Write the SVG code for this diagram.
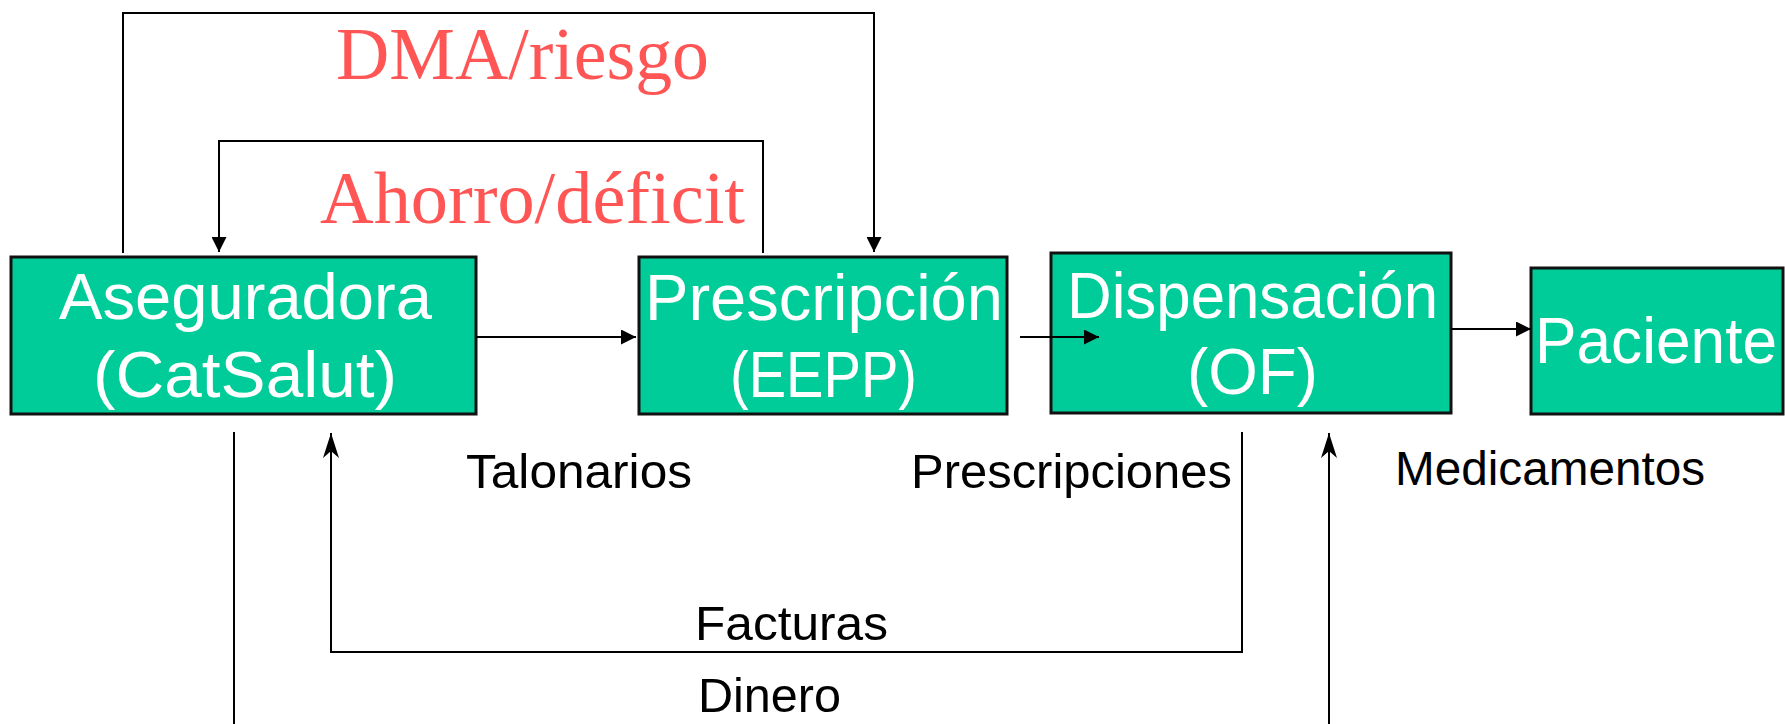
<svg xmlns="http://www.w3.org/2000/svg" width="1785" height="724" viewBox="0 0 1785 724">
<style>
.box{fill:#00CC99;stroke:#111;stroke-width:3}
.bt{font-family:"Liberation Sans",Arial,sans-serif;font-size:64px;fill:#fff}
.lb{font-family:"Liberation Sans",Arial,sans-serif;font-size:48px;fill:#000}
.rd{font-family:"Liberation Serif","Times New Roman",serif;font-size:74px;fill:#FF5555}
.ln{fill:none;stroke:#000;stroke-width:2}
</style>
<defs>
<marker id="tri" viewBox="0 0 15 15" refX="15" refY="7.5" markerWidth="15" markerHeight="15" markerUnits="userSpaceOnUse" orient="auto">
<path d="M0,0 L15,7.5 L0,15 z" fill="#000"/>
</marker>
<marker id="stl" viewBox="0 0 25 16" refX="25" refY="8" markerWidth="25" markerHeight="16" markerUnits="userSpaceOnUse" orient="auto">
<path d="M0,0 L25,8 L0,16 L7,8 z" fill="#000"/>
</marker>
</defs>
<g id="connectors">
<path class="ln" d="M123,253 V13 H874 V252" marker-end="url(#tri)"/>
<path class="ln" d="M763,253 V141 H219 V252" marker-end="url(#tri)"/>
<path class="ln" d="M234,432 V724"/>
<path class="ln" d="M1329,724 V433" marker-end="url(#stl)"/>
<path class="ln" d="M1242,432 V652 H331 V433" marker-end="url(#stl)"/>
</g>
<g id="n-aseguradora">
<rect class="box" x="11" y="257" width="465" height="157"/>
<text class="bt" x="59" y="319" textLength="373" lengthAdjust="spacingAndGlyphs">Aseguradora</text>
<text class="bt" x="93" y="397" textLength="304" lengthAdjust="spacingAndGlyphs">(CatSalut)</text>
</g>
<g id="n-prescripcion">
<rect class="box" x="639" y="257" width="368" height="157"/>
<text class="bt" x="645" y="320" textLength="358" lengthAdjust="spacingAndGlyphs">Prescripción</text>
<text class="bt" x="730" y="397" textLength="187" lengthAdjust="spacingAndGlyphs">(EEPP)</text>
</g>
<g id="n-dispensacion">
<rect class="box" x="1051" y="253" width="400" height="160"/>
<text class="bt" x="1067" y="318" textLength="371" lengthAdjust="spacingAndGlyphs">Dispensación</text>
<text class="bt" x="1187" y="394" textLength="131" lengthAdjust="spacingAndGlyphs">(OF)</text>
</g>
<g id="n-paciente">
<rect class="box" x="1531" y="268" width="252" height="146"/>
<text class="bt" x="1535" y="363" textLength="242" lengthAdjust="spacingAndGlyphs">Paciente</text>
</g>
<g id="arrows-main">
<path class="ln" d="M476,337 H636" marker-end="url(#tri)"/>
<path class="ln" d="M1020,337 H1099" marker-end="url(#tri)"/>
<path class="ln" d="M1451,329 H1531" marker-end="url(#tri)"/>
</g>
<g id="labels">
<text class="rd" x="336" y="79" textLength="373" lengthAdjust="spacingAndGlyphs">DMA/riesgo</text>
<text class="rd" x="320" y="223" textLength="425" lengthAdjust="spacingAndGlyphs">Ahorro/déficit</text>
<text class="lb" x="466" y="488" textLength="226" lengthAdjust="spacingAndGlyphs">Talonarios</text>
<text class="lb" x="911" y="488" textLength="321" lengthAdjust="spacingAndGlyphs">Prescripciones</text>
<text class="lb" x="1395" y="485" textLength="310" lengthAdjust="spacingAndGlyphs">Medicamentos</text>
<text class="lb" x="695" y="640" textLength="193" lengthAdjust="spacingAndGlyphs">Facturas</text>
<text class="lb" x="698" y="712" textLength="143" lengthAdjust="spacingAndGlyphs">Dinero</text>
</g>
</svg>
